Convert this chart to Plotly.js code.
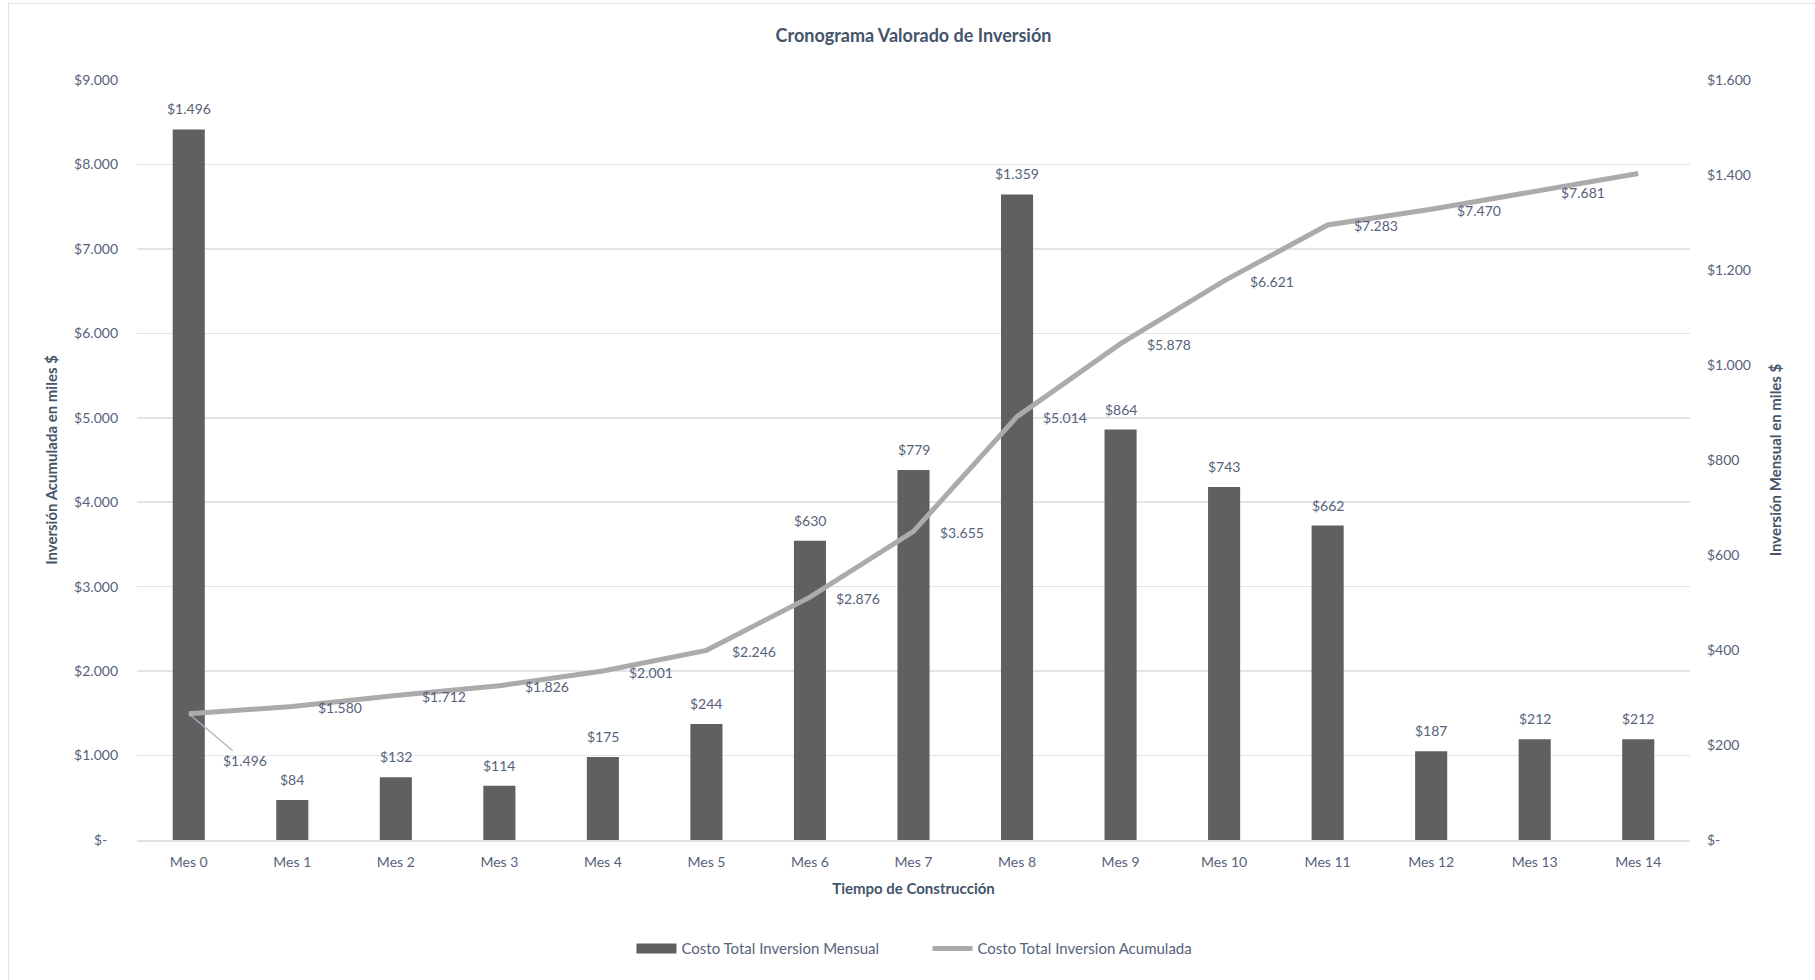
<!DOCTYPE html>
<html>
<head>
<meta charset="utf-8">
<script src="https://cdn.plot.ly/plotly-3.0.1.min.js"></script>
<style>
  html, body { margin: 0; padding: 0; background: #ffffff; }
  #wrap { position: relative; width: 1815px; height: 980px; overflow: hidden; }
  #chart { position: absolute; left: 0; top: 0; width: 1815px; height: 980px; }
  #frame { position: absolute; left: 8px; top: 3px; width: 2000px; height: 2000px;
           border: 1.5px solid #dde2e8; pointer-events: none; box-sizing: border-box; }
</style>
</head>
<body>
<div id="wrap">
  <div id="chart"></div>
  <div id="frame"></div>
</div>
<script>
// ---- data ----
const categories = ['Mes 0','Mes 1','Mes 2','Mes 3','Mes 4','Mes 5','Mes 6','Mes 7',
                    'Mes 8','Mes 9','Mes 10','Mes 11','Mes 12','Mes 13','Mes 14'];
const monthly = [1496, 84, 132, 114, 175, 244, 630, 779, 1359, 864, 743, 662, 187, 212, 212];
const cumulative = [1496, 1580, 1712, 1826, 2001, 2246, 2876, 3655, 5014, 5878, 6621, 7283, 7470, 7681, 7893];
const cumulativeLabelShown = [true, true, true, true, true, true, true, true, true, true, true, true, true, true, false];
const leftTickVals = [0, 1000, 2000, 3000, 4000, 5000, 6000, 7000, 8000, 9000];
const rightTickVals = [0, 200, 400, 600, 800, 1000, 1200, 1400, 1600];
const seriesNames = ['Costo Total Inversion Mensual', 'Costo Total Inversion Acumulada'];

// ---- helpers ----
function fmt(v) {
  if (v === 0) return '$-';
  return '$' + String(Math.round(v)).replace(/\B(?=(\d{3})+(?!\d))/g, '.');
}

const FONT = 'Lato, "Open Sans", "Noto Sans", sans-serif';
const TXT = '#56627a';
const TTL = '#44546a';
const BAR = '#606060';
const LINE = '#ababab';

const barTrace = {
  type: 'bar',
  name: seriesNames[0],
  x: categories,
  y: monthly,
  yaxis: 'y',
  marker: { color: BAR, line: { width: 0 } },
  showlegend: false,
  hoverinfo: 'x+y'
};

// legend-only swatch for the bar series (wide rectangle like the original)
const barLegend = {
  type: 'scatter',
  mode: 'lines',
  name: seriesNames[0],
  x: [categories[0]],
  y: [null],
  yaxis: 'y',
  line: { color: BAR, width: 10 },
  hoverinfo: 'skip'
};

const lineTrace = {
  type: 'scatter',
  mode: 'lines',
  name: seriesNames[1],
  x: categories,
  y: cumulative,
  yaxis: 'y2',
  line: { color: LINE, width: 5 },
  hoverinfo: 'x+y'
};

const annotations = [];
// bar labels
categories.forEach((c, i) => {
  annotations.push({
    x: c, y: monthly[i], xref: 'x', yref: 'y',
    text: fmt(monthly[i]), showarrow: false,
    yanchor: 'bottom', yshift: 10,
    font: { family: FONT, size: 14, color: TXT }
  });
});
// line labels
categories.forEach((c, i) => {
  if (!cumulativeLabelShown[i]) return;
  if (i === 0) {
    annotations.push({
      x: c, y: cumulative[i], xref: 'x', yref: 'y2',
      text: fmt(cumulative[i]), showarrow: true,
      arrowhead: 0, arrowwidth: 1.3, arrowcolor: '#a8b5c6',
      ax: 56, ay: 47, standoff: 0,
      font: { family: FONT, size: 14, color: TXT }
    });
  } else {
    annotations.push({
      x: c, y: cumulative[i], xref: 'x', yref: 'y2',
      text: fmt(cumulative[i]), showarrow: false,
      xanchor: 'center', xshift: 48, yshift: -1,
      font: { family: FONT, size: 14, color: TXT }
    });
  }
});

const layout = {
  width: 1815,
  height: 980,
  paper_bgcolor: '#ffffff',
  plot_bgcolor: '#ffffff',
  separators: ',.',
  margin: { l: 137, r: 125, t: 80, b: 140, pad: 0 },
  font: { family: FONT, size: 14, color: TXT },
  title: {
    text: 'Cronograma Valorado de Inversión',
    x: 0.5, xref: 'paper', y: 1 - 36 / 980, yref: 'container', yanchor: 'middle',
    font: { family: FONT, size: 18, color: TTL, weight: 'bold' }
  },
  bargap: 0.69,
  showlegend: true,
  legend: {
    orientation: 'h', x: 0.509, xanchor: 'center', y: -0.143, yanchor: 'middle',
    font: { family: FONT, size: 15, color: TXT },
    traceorder: 'normal', itemwidth: 40,
    entrywidth: 241, entrywidthmode: 'pixels'
  },
  xaxis: {
    type: 'category',
    showgrid: false,
    showline: true, linecolor: '#dde2e8', linewidth: 1.5,
    ticks: '', ticklabelstandoff: 9,
    tickfont: { family: FONT, size: 14, color: TXT },
    title: {
      text: 'Tiempo de Construcción', standoff: 14,
      font: { family: FONT, size: 15, color: TTL, weight: 'bold' }
    },
    fixedrange: true
  },
  yaxis: {
    side: 'right',
    range: [0, 1600],
    tickvals: rightTickVals,
    ticktext: rightTickVals.map(fmt),
    showgrid: false, zeroline: false, showline: false, ticks: '',
    ticklabelstandoff: 16,
    tickfont: { family: FONT, size: 14, color: TXT },
    title: {
      text: 'Inversión Mensual en miles $', standoff: 20,
      font: { family: FONT, size: 15, color: TTL, weight: 'bold' }
    },
    fixedrange: true
  },
  yaxis2: {
    side: 'left',
    overlaying: 'y',
    range: [0, 9000],
    tickvals: leftTickVals,
    ticktext: leftTickVals.map(v => v === 0 ? fmt(v) + '\u00a0\u00a0\u00a0' : fmt(v)),
    showgrid: true, gridcolor: '#e1e5ea', gridwidth: 1.5,
    zeroline: false, showline: false, ticks: '',
    ticklabelstandoff: 18,
    tickfont: { family: FONT, size: 14, color: TXT },
    title: {
      text: 'Inversión Acumulada en miles $', standoff: 12,
      font: { family: FONT, size: 15, color: TTL, weight: 'bold' }
    },
    fixedrange: true
  },
  annotations: annotations
};

Plotly.newPlot('chart', [barTrace, barLegend, lineTrace], layout, { displayModeBar: false, staticPlot: true });
</script>
</body>
</html>
